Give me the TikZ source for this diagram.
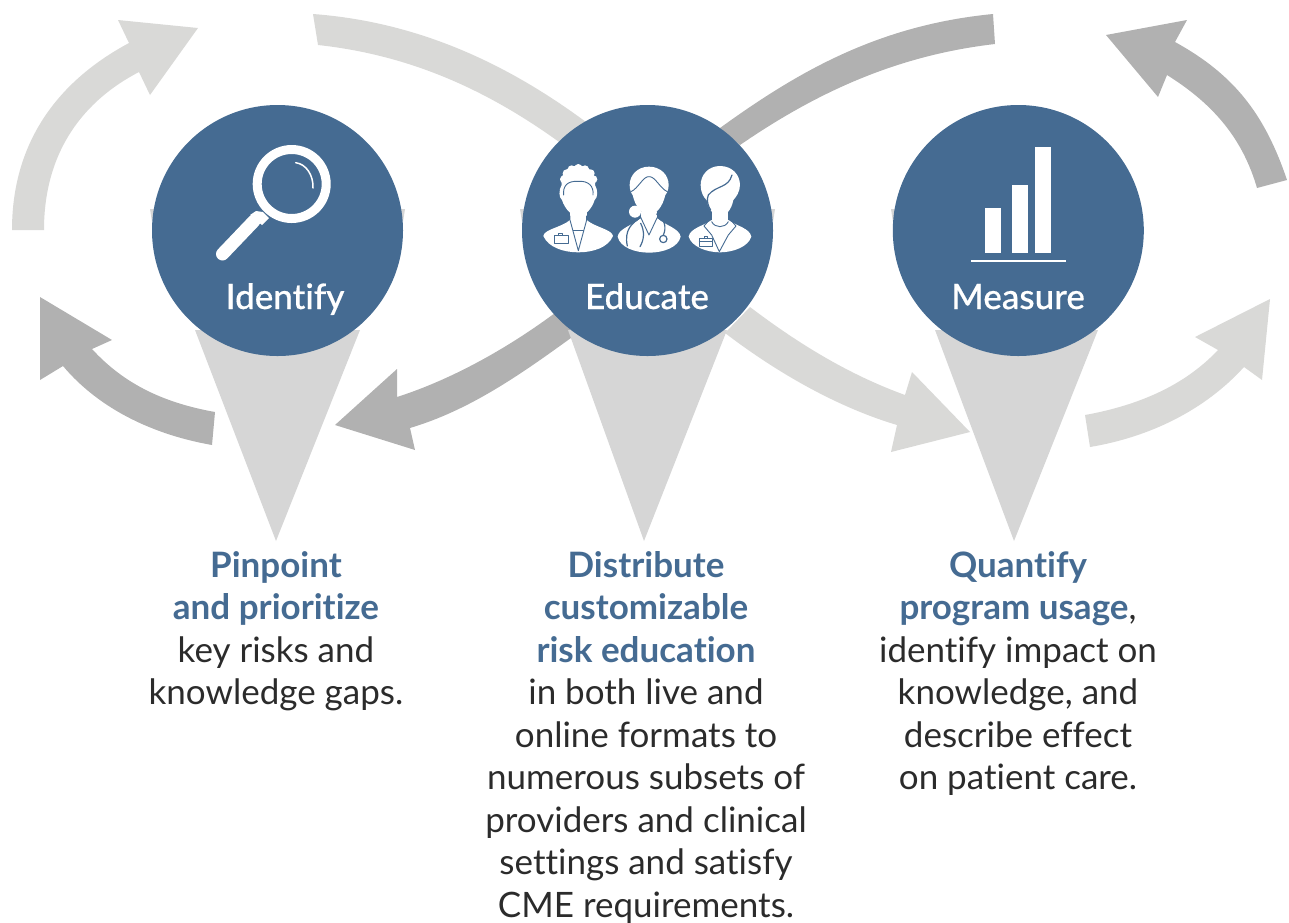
\documentclass[tikz,border=0pt]{standalone}
\usepackage{fontspec}
\setmainfont[Ligatures=NoCommon]{Lato}
\newfontfamily\titlefont[Ligatures=NoCommon,FakeBold=0.4]{Lato Medium}
\definecolor{lightarc}{HTML}{D9D9D7}
\definecolor{darkarc}{HTML}{B1B1B1}
\definecolor{pincol}{HTML}{D6D6D6}
\definecolor{blue}{HTML}{456B92}
\definecolor{ink}{HTML}{2B2B2B}
\tikzset{
  circ/.style={circle,fill=blue,minimum size=251pt,inner sep=0pt},
  lightar/.style={fill=lightarc},
  darkar/.style={fill=darkarc},
  pinshape/.style={fill=pincol},
  title/.style={text=white,anchor=base,inner sep=0pt,font=\titlefont\fontsize{35}{35}\selectfont},
  body/.style={align=center,text=ink,font=\fontsize{35}{42.5}\selectfont,anchor=north,inner sep=0pt},
  icon/.style={fill=white},
  iconline/.style={draw=blue,line width=0.9pt,line cap=round,line join=round},
}
\newcommand{\hd}[1]{\textcolor{blue}{\textbf{#1}}}
\begin{document}
\begin{tikzpicture}[x=1pt,y=-1pt]
\useasboundingbox (0,0) rectangle (1289,922);
% arrows
\fill[lightar] (12,230) .. controls (12,140) and (60,80) .. (129,43) -- (118,20) -- (198,28) -- (150,95) -- (139,72) .. controls (85,100) and (44,150) .. (44,230) -- cycle;
\fill[lightar] (313,14) .. controls (420,22) and (510,65) .. (590,125) -- (570,150) .. controls (490,90) and (410,55) .. (318,45) -- cycle;
\fill[lightar] (750,307) .. controls (800,345) and (850,375) .. (905,395) -- (912,372) -- (970,432) -- (891,452) -- (897,425) .. controls (840,408) and (780,375) .. (725,333) -- cycle;
\fill[darkar] (993,14) .. controls (880,25) and (800,70) .. (720,128) -- (740,145) .. controls (820,90) and (900,55) .. (995,44) -- cycle;
\fill[darkar] (555,313) .. controls (505,350) and (450,380) .. (397,397) -- (397,369) -- (335,425) -- (415,450) -- (410,428) .. controls (470,410) and (520,375) .. (575,335) -- cycle;
\fill[darkar] (1287,180) .. controls (1265,115) and (1235,75) .. (1175,42) -- (1187,20) -- (1106,35) -- (1158,97) -- (1167,75) .. controls (1215,105) and (1243,140) .. (1257,188) -- cycle;
\fill[darkar] (215,412) .. controls (165,403) and (125,385) .. (92,349) -- (112,340) -- (40,297) -- (40,380) -- (63,366) .. controls (100,410) and (155,435) .. (212,445) -- cycle;
\fill[lightar] (1085,415) .. controls (1140,405) and (1185,385) .. (1218,350) -- (1195,337) -- (1270,299) -- (1262,380) -- (1244,367) .. controls (1205,410) and (1150,437) .. (1090,447) -- cycle;
% pins
\fill[pinshape] (195,330) -- (360,330) -- (276,541) -- cycle;
\fill[pinshape] (568,330) -- (727,330) -- (644,541) -- cycle;
\fill[pinshape] (935,330) -- (1098,330) -- (1014,541) -- cycle;
% small slivers behind the circles
\fill[pinshape] (400,209) -- (405,209) -- (403,222) -- cycle;
\fill[pinshape] (150,209) -- (155,209) -- (152,222) -- cycle;
\fill[pinshape] (770,209) -- (775,209) -- (773,222) -- cycle;
\fill[pinshape] (520,209) -- (525,209) -- (522,222) -- cycle;
\fill[pinshape] (891,209) -- (896,209) -- (893,222) -- cycle;
% circles
\node[circ] (identify) at (277.5,230.5) {};
\node[circ] (educate) at (647.5,230.5) {};
\node[circ] (measure) at (1018.3,230.5) {};
% magnifier
\draw[white,line width=9pt] (291.7,184) circle (34.5);
\draw[white,line width=1.5pt,line cap=round] (295.7,162.7) .. controls (306,164) and (313.5,175) .. (313,188);
\fill[white] (263,212) -- (269,218) -- (262,225) -- (250,215) -- (256,211) -- cycle;
\draw[white,line width=13pt,line cap=round] (254,221) -- (222.5,254);
% bars
\fill[icon] (985,208) rectangle (1001,253);
\fill[icon] (1012,185) rectangle (1028,253);
\fill[icon] (1035,147) rectangle (1051,253);
\fill[icon] (971,259.7) rectangle (1066,261.7);
% people
\begin{scope}[shift={(520,140)},x=0.3333pt,y=-0.3333pt]
 % person 1
 \fill[icon] (175,78) .. controls (208,76) and (228,100) .. (225,135) .. controls (234,150) and (234,172) .. (224,180) .. controls (215,208) and (195,228) .. (175,228) .. controls (155,228) and (135,208) .. (126,180) .. controls (116,172) and (116,150) .. (125,135) .. controls (120,100) and (142,76) .. (175,78) -- cycle;
 \foreach \hx/\hy in {140/100,132/118,155/88,175/84,195/88,212/100,220/118} {\fill[icon] (\hx,\hy) circle (12);}
 \fill[icon] (150,215) rectangle (200,262);
 \fill[icon] (70,288) .. controls (72,268) and (125,262) .. (150,240) -- (200,240) .. controls (225,262) and (276,268) .. (279,288) .. controls (265,322) and (220,337) .. (175,337) .. controls (130,337) and (85,322) .. (70,288) -- cycle;
 \draw[iconline] (131,165) .. controls (128,138) and (142,122) .. (175,124) .. controls (205,122) and (222,138) .. (219,165);
 \draw[iconline] (150,228) -- (150,240) -- (175,332) -- (200,240) -- (200,228);
 \draw[iconline] (160,270) -- (190,270);
 \draw[iconline] (102,286) rectangle (145,310);
 \draw[iconline] (115,280) rectangle (128,286);
 % person 2
 \fill[icon] (345,215) circle (18);
 \fill[icon] (387,80) .. controls (422,80) and (446,105) .. (446,135) .. controls (446,150) and (440,160) .. (436,165) .. controls (428,200) and (408,225) .. (387,225) .. controls (366,225) and (346,200) .. (338,165) .. controls (334,160) and (329,150) .. (329,135) .. controls (329,105) and (353,80) .. (387,80) -- cycle;
 \fill[icon] (362,215) rectangle (412,262);
 \fill[icon] (293,290) .. controls (296,265) and (340,255) .. (362,235) -- (412,235) .. controls (434,255) and (478,265) .. (482,290) .. controls (475,322) and (430,338) .. (387,338) .. controls (345,338) and (300,322) .. (293,290) -- cycle;
 \draw[iconline] (333,155) .. controls (355,145) and (370,108) .. (387,110) .. controls (405,108) and (420,145) .. (442,155);
 \draw[iconline] (362,232) -- (387,285) -- (412,232);
 \draw[iconline,line width=1.2pt] (362,232) .. controls (335,250) and (312,270) .. (322,318);
 \draw[iconline,line width=1.2pt] (362,250) .. controls (375,275) and (372,300) .. (360,320);
 \draw[iconline,line width=1.2pt] (410,222) .. controls (435,235) and (440,265) .. (430,285);
 \draw[iconline,line width=1.2pt] (430,297) circle (11);
 % person 3
 \fill[icon] (600,78) .. controls (637,78) and (660,105) .. (660,135) .. controls (660,155) and (648,172) .. (640,180) .. controls (635,210) and (615,230) .. (600,230) .. controls (585,230) and (565,210) .. (560,180) .. controls (550,172) and (542,155) .. (542,135) .. controls (542,105) and (565,78) .. (600,78) -- cycle;
 \fill[icon] (575,215) rectangle (625,262);
 \fill[icon] (506,290) .. controls (510,265) and (550,258) .. (575,240) -- (625,240) .. controls (650,258) and (690,265) .. (694,290) .. controls (685,320) and (640,337) .. (600,337) .. controls (560,337) and (515,320) .. (506,290) -- cycle;
 \draw[iconline,line width=1.2pt] (636,105) .. controls (625,145) and (590,135) .. (565,165) .. controls (558,180) and (565,200) .. (572,210);
 \draw[iconline] (572,235) -- (552,258) -- (575,285) -- (598,335) -- (625,285) -- (648,258) -- (628,235);
 \draw[iconline] (575,245) .. controls (585,265) and (615,265) .. (625,245);
 \draw[iconline] (538,295) rectangle (577,318);
 \draw[iconline] (538,303) -- (577,303);
 \draw[iconline] (552,288) rectangle (563,295);
\end{scope}
% titles
\node[title] (t1) at (285,309) {Identify};
\node[title] (t2) at (647,309) {Educate};
\node[title] (t3) at (1018,309) {Measure};
% captions
\node[body] (c1) at (276,551) {\hd{Pinpoint}\\\hd{and prioritize}\\key risks and\\knowledge gaps.};
\node[body] (c2) at (646,551) {\hd{Distribute}\\\hd{customizable}\\\hd{risk education}\\in both live and\\online formats to\\numerous subsets of\\providers and clinical\\settings and satisfy\\CME requirements.};
\node[body] (c3) at (1018,551) {\hd{Quantify}\\\hd{program usage},\\identify impact on\\knowledge, and\\describe effect\\on patient care.};
\end{tikzpicture}
\end{document}
